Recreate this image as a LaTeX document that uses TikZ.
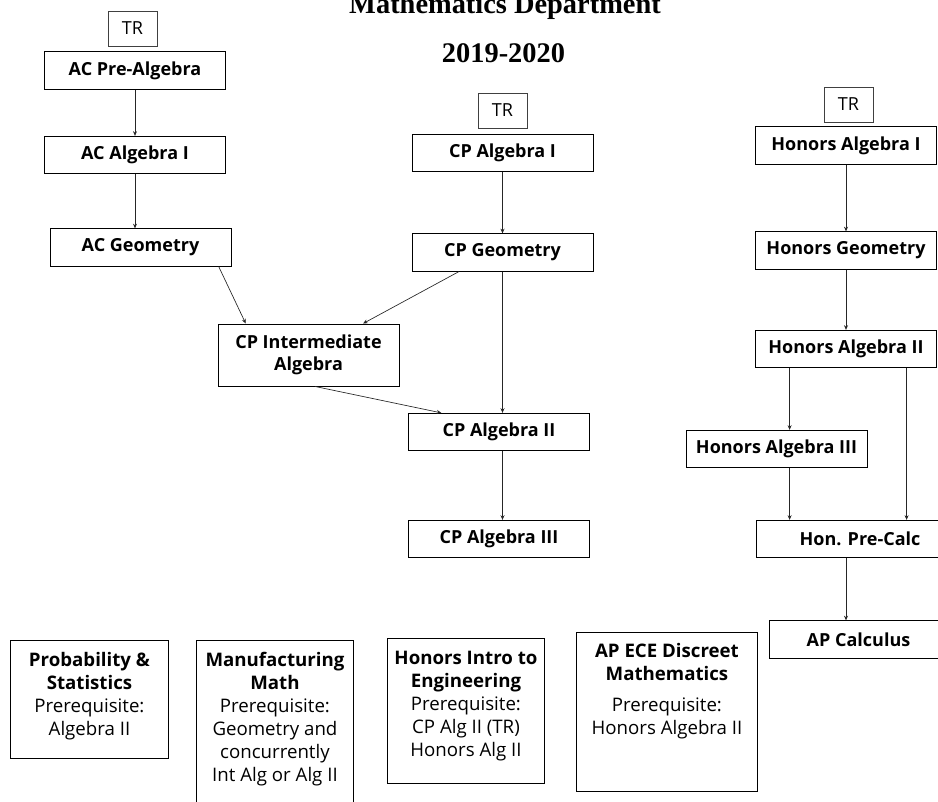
\documentclass[tikz,border=0pt]{standalone}
\usepackage{fontspec}
\setmainfont{Open Sans}
\newfontfamily\titlefont{Liberation Serif}
\usetikzlibrary{arrows.meta, positioning, calc}

\newcommand{\infobox}[3]{\begin{minipage}[t][#2][t]{#1}\centering #3\end{minipage}}

\begin{document}
\begin{tikzpicture}[
  x=0.75pt, y=-0.75pt,
  every node/.style={font=\fontsize{13.5}{16.5}\selectfont},
  box/.style={rectangle, draw, line width=0.7pt, minimum width=135.75pt, minimum height=28pt, inner sep=1pt, align=center, font=\fontsize{13.5}{16.5}\selectfont\bfseries},
  tr/.style={rectangle, draw=black!75, line width=0.7pt, minimum width=36.75pt, minimum height=26.25pt, inner sep=1pt},
  info/.style={rectangle, draw, line width=0.7pt, inner sep=0pt, anchor=north west, font=\fontsize{14}{17.25}\selectfont},
  title/.style={font=\titlefont\bfseries\fontsize{21.3}{24}\selectfont, anchor=base},
  arr/.style={-{Stealth[length=3.5pt, width=3pt]}, line width=0.5pt, draw=black!85},
]
\useasboundingbox (0,0) rectangle (938,802);
\clip (0,0) rectangle (938,802);

% Title
\node[title] (dept) at (505,14) {Mathematics Department};
\node[title] (year) at (503.5,63) {2019-2020};

% AC track
\node[tr] (tra) at (132.5,28.5) {TR};
\node[box] (acpre) at (135,70.5) {AC Pre-Algebra};
\node[box] (acalg) at (135,155) {AC Algebra I};
\node[box] (acgeo) at (140.5,247.5) {AC Geometry};
\node[box, minimum height=46.5pt] (intalg) at (308.5,355) {CP Intermediate\\Algebra};

% CP track
\node[tr] (trc) at (502.5,110.5) {TR};
\node[box] (cpalg1) at (502.5,153) {CP Algebra I};
\node[box] (cpgeo) at (502.5,252.5) {CP Geometry};
\node[box] (cpalg2) at (499,432) {CP Algebra II};
\node[box] (cpalg3) at (499,539) {CP Algebra III};

% Honors track
\node[tr] (trh) at (848.5,104.5) {TR};
\node[box] (halg1) at (846,145.5) {Honors Algebra I};
\node[box] (hgeo) at (846,250.5) {Honors Geometry};
\node[box] (halg2) at (846,349) {Honors Algebra II};
\node[box] (halg3) at (776.5,449) {Honors Algebra III};
\node[box, minimum width=156pt] (precalc) at (860,539) {Hon. Pre-Calc};
\node[box, minimum width=134.25pt] (apcalc) at (858.5,639.5) {AP Calculus};

% Electives
\node[info] (prob) at (10,640) {\infobox{118.5pt}{88.5pt}{\rule{0pt}{19.5pt}\textbf{Probability \&}\\\textbf{Statistics}\\Prerequisite:\\Algebra II}};
\node[info] (manu) at (196,640) {\infobox{117.75pt}{131.25pt}{\rule{0pt}{19.5pt}\textbf{Manufacturing}\\\textbf{Math}\\Prerequisite:\\Geometry and\\concurrently\\Int Alg or Alg II}};
\node[info] (engr) at (387,638) {\infobox{117.75pt}{108.75pt}{\rule{0pt}{19.5pt}\textbf{Honors Intro to}\\\textbf{Engineering}\\Prerequisite:\\CP Alg II (TR)\\Honors Alg II}};
\node[info] (disc) at (576,632) {\infobox{135.75pt}{119.25pt}{\rule{0pt}{18.75pt}\textbf{AP ECE Discreet}\\\textbf{Mathematics}\\[6pt]Prerequisite:\\Honors Algebra II}};

% Arrows - AC and CP
\draw[arr] (acpre) -- (acalg);
\draw[arr] (acalg) -- (acalg |- acgeo.north);
\draw[arr] ($(acgeo.south west)!0.93!(acgeo.south east)$) -- ($(intalg.north west)!0.155!(intalg.north east)$);
\draw[arr] (cpalg1) -- (cpgeo);
\draw[arr] ($(cpgeo.south west)!0.26!(cpgeo.south east)$) -- ($(intalg.north west)!0.80!(intalg.north east)$);
\draw[arr] (cpgeo) -- (cpgeo |- cpalg2.north);
\draw[arr] ($(intalg.south west)!0.536!(intalg.south east)$) -- ($(cpalg2.north west)!0.183!(cpalg2.north east)$);
\draw[arr] (cpgeo |- cpalg2.south) -- (cpgeo |- cpalg3.north);

% Arrows - Honors
\coordinate (h2l) at ($(halg2.south west)!0.19!(halg2.south east)$);
\coordinate (h2r) at ($(halg2.south west)!0.833!(halg2.south east)$);
\draw[arr] (halg1) -- (hgeo);
\draw[arr] (hgeo) -- (halg2);
\draw[arr] (h2l) -- (h2l |- halg3.north);
\draw[arr] (h2l |- halg3.south) -- (h2l |- precalc.north);
\draw[arr] (h2r) -- (h2r |- precalc.north);
\draw[arr] (halg2 |- precalc.south) -- (halg2 |- apcalc.north);
\end{tikzpicture}
\end{document}
